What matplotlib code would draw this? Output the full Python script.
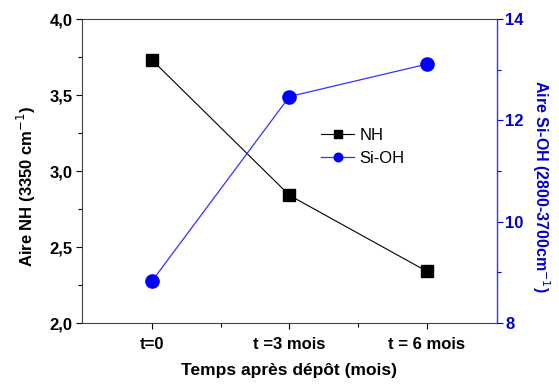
import matplotlib
matplotlib.use("Agg")
import matplotlib.pyplot as plt
from matplotlib.ticker import MultipleLocator, FixedLocator

plt.rcParams['font.family'] = ['Liberation Sans', 'DejaVu Sans']

categories = ["t=0", "t =3 mois", "t = 6 mois"]
nh = [3.73, 2.84, 2.34]
sioh = [8.83, 12.47, 13.11]

fig = plt.figure(figsize=(5.59, 3.85), dpi=100)
ax = fig.add_axes([0.1467, 0.161, 0.889 - 0.1467, 0.9506 - 0.161])
ax2 = ax.twinx()

x = list(range(len(categories)))
l1, = ax.plot(x, nh, color='black', lw=0.8, marker='s', markersize=8.5,
              markerfacecolor='black', markeredgecolor='black', label='NH')
l2, = ax2.plot(x, sioh, color='#3333ff', lw=0.9, marker='o', markersize=9.5,
               markerfacecolor='#0000ff', markeredgecolor='#0000ff', label='Si-OH')

ax.set_xlim(-0.51, 2.51)
ax.set_ylim(2.0, 4.0)
ax2.set_ylim(8, 14)

fs = 12
ax.set_xticks(x)
ax.set_xticklabels(categories, fontsize=fs, fontweight='bold')
ax.xaxis.set_minor_locator(FixedLocator([0.5, 1.5]))
ax.yaxis.set_major_locator(MultipleLocator(0.5))
ax.yaxis.set_minor_locator(MultipleLocator(0.25))
ax.set_yticklabels([f"{v:.1f}".replace('.', ',') for v in ax.get_yticks()],
                   fontsize=fs, fontweight='bold')
ax2.yaxis.set_major_locator(MultipleLocator(2))
ax2.yaxis.set_minor_locator(MultipleLocator(1))
for lab in ax2.get_yticklabels():
    lab.set_fontsize(fs)
    lab.set_fontweight('bold')
    lab.set_color('#0000cc')

ax.tick_params(axis='x', which='major', direction='out', length=4, width=0.8, pad=6)
ax.tick_params(axis='y', which='major', direction='out', length=4, width=0.8, pad=3)
ax.tick_params(axis='both', which='minor', direction='out', length=3, width=0.8)
ax2.tick_params(axis='y', which='major', direction='out', length=4, width=0.8,
                colors='#0000cc', pad=2)
ax2.tick_params(axis='y', which='minor', direction='out', length=3, width=0.8, colors='#0000cc')

for sp in ['left', 'bottom', 'top']:
    ax.spines[sp].set_color('#444444')
    ax.spines[sp].set_linewidth(0.8)
ax2.spines['right'].set_color('#3333ff')
ax2.spines['right'].set_linewidth(1.0)
ax.spines['right'].set_visible(False)
for sp in ['left', 'bottom', 'top']:
    ax2.spines[sp].set_visible(False)

ax.set_ylabel("Aire NH (3350 cm$^{-1}$)", fontsize=12, fontweight='bold', labelpad=8)
ax.set_xlabel("Temps après dépôt (mois)", fontsize=12.5, fontweight='bold', labelpad=8)
ax2.set_ylabel("Aire Si-OH (2800-3700cm$^{-1}$)", fontsize=11.5, fontweight='bold',
               color='#0000cc', rotation=270, labelpad=20)
ax.yaxis.label.set_y(0.45)
ax2.yaxis.label.set_y(0.45)

leg = ax.legend([l1, l2], ['NH', 'Si-OH'], loc='upper left',
                bbox_to_anchor=(0.54, 0.69), frameon=False, fontsize=12,
                handlelength=2.0, handletextpad=0.3, labelspacing=0.45,
                markerscale=0.65)

fig.savefig("out.png", dpi=100)
